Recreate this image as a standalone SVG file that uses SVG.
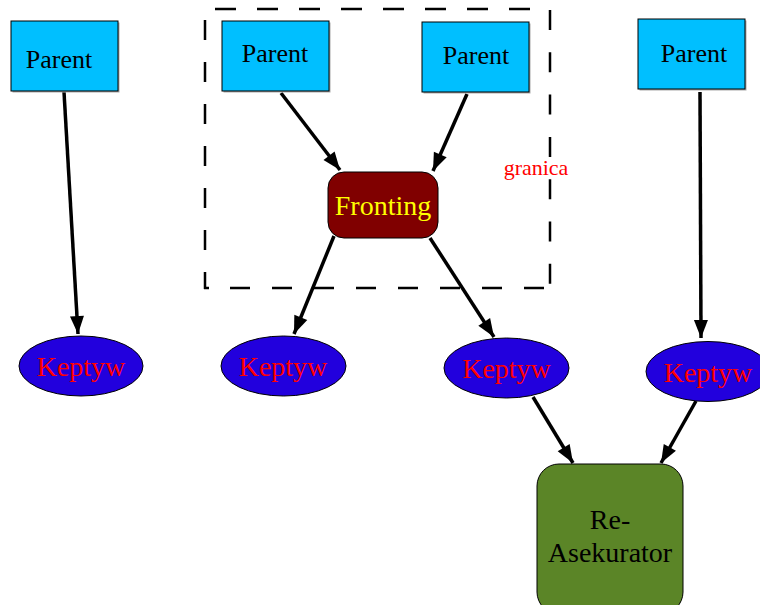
<svg xmlns="http://www.w3.org/2000/svg" width="760" height="605" viewBox="0 0 760 605">
<defs>
<marker id="arr" markerUnits="userSpaceOnUse" markerWidth="20" markerHeight="15" refX="18" refY="7" orient="auto" overflow="visible">
<path d="M0,0 L18,7 L0,14 z" fill="#000"/>
</marker>
<style>
.txt{font-family:"Liberation Serif","Times New Roman",serif;text-anchor:middle}
.parent rect.box{fill:#00bfff;stroke:#000;stroke-width:1}
.parent rect.sh{fill:#aaa}
.parent text{font-size:26px;fill:#000}
.kep ellipse{fill:#2200dd;stroke:#000;stroke-width:1}
.kep text{font-size:28px;fill:#ff0000}
.edge{stroke:#000;stroke-width:3.5;fill:none;marker-end:url(#arr)}
.dash{stroke:#000;stroke-width:2.5;fill:none}
</style>
</defs>
<rect width="760" height="605" fill="#fff"/>
<g id="boundary">
<line class="dash" x1="215" y1="9" x2="531" y2="9" stroke-dasharray="21 21"/>
<line class="dash" x1="550" y1="10" x2="550" y2="284" stroke-dasharray="20 22.3"/>
<line class="dash" x1="205" y1="20" x2="205" y2="289" stroke-dasharray="20 22"/>
<line class="dash" x1="204" y1="288" x2="209" y2="288"/>
<line class="dash" x1="230" y1="288" x2="546" y2="288" stroke-dasharray="20 22"/>
<text class="txt" x="536" y="175" font-size="22" fill="#ff0000">granica</text>
</g>
<g id="connectors">
<line class="edge" x1="64" y1="92" x2="78" y2="334"/>
<line class="edge" x1="281" y1="93" x2="340" y2="170"/>
<line class="edge" x1="467" y1="94" x2="433" y2="171"/>
<line class="edge" x1="334" y1="236" x2="294" y2="334"/>
<line class="edge" x1="430" y1="238" x2="494" y2="337"/>
<line class="edge" x1="700" y1="92" x2="701" y2="338"/>
<line class="edge" x1="533" y1="397" x2="573" y2="463"/>
<line class="edge" x1="696" y1="401" x2="661" y2="463"/>
</g>
<g id="parent1" class="parent txt">
<rect class="sh" x="12.5" y="22.5" width="107" height="70"/>
<rect class="box" x="11" y="21" width="107" height="70"/>
<text x="59" y="68">Parent</text>
</g>
<g id="parent2" class="parent txt">
<rect class="sh" x="223.5" y="22.5" width="107" height="70"/>
<rect class="box" x="222" y="21" width="107" height="70"/>
<text x="275" y="62">Parent</text>
</g>
<g id="parent3" class="parent txt">
<rect class="sh" x="423.5" y="23.5" width="107" height="70"/>
<rect class="box" x="422" y="22" width="107" height="70"/>
<text x="476" y="64">Parent</text>
</g>
<g id="parent4" class="parent txt">
<rect class="sh" x="639.5" y="20.5" width="107" height="70"/>
<rect class="box" x="638" y="19" width="107" height="70"/>
<text x="694" y="62">Parent</text>
</g>
<g id="fronting" class="txt">
<rect x="328" y="172" width="110" height="66" rx="16" ry="16" fill="#800000" stroke="#000" stroke-width="1"/>
<text x="383" y="215" font-size="28" fill="#ffff00">Fronting</text>
</g>
<g id="keptyw1" class="kep txt">
<ellipse cx="81" cy="366" rx="62" ry="30"/>
<text x="81" y="376">Keptyw</text>
</g>
<g id="keptyw2" class="kep txt">
<ellipse cx="283.5" cy="366" rx="62.5" ry="30"/>
<text x="283" y="376">Keptyw</text>
</g>
<g id="keptyw3" class="kep txt">
<ellipse cx="506.5" cy="368" rx="62.5" ry="30"/>
<text x="506.5" y="378">Keptyw</text>
</g>
<g id="keptyw4" class="kep txt">
<ellipse cx="708" cy="371.5" rx="62" ry="30"/>
<text x="708" y="382">Keptyw</text>
</g>
<g id="reasekurator" class="txt">
<rect x="537" y="464" width="146" height="150" rx="22" ry="22" fill="#5b8527" stroke="#000" stroke-width="1"/>
<text x="610" y="529" font-size="28" fill="#000">Re-</text>
<text x="610" y="562" font-size="28" fill="#000">Asekurator</text>
</g>
</svg>
